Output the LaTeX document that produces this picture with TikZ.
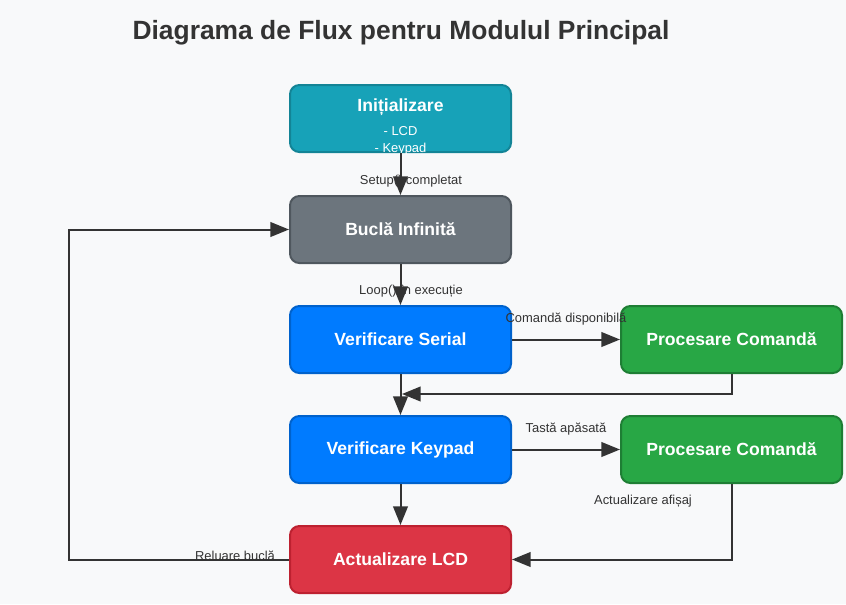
\documentclass[tikz,border=0pt]{standalone}
\usepackage{fontspec}
\setmainfont{Liberation Sans}
\usetikzlibrary{arrows.meta}

\definecolor{pagebg}{HTML}{F8F9FA}
\definecolor{ink}{HTML}{333333}
\definecolor{tealf}{HTML}{17A2B8}
\definecolor{teald}{HTML}{138496}
\definecolor{grayf}{HTML}{6C757D}
\definecolor{grayd}{HTML}{4F575E}
\definecolor{bluef}{HTML}{007BFF}
\definecolor{blued}{HTML}{0062CC}
\definecolor{greenf}{HTML}{28A745}
\definecolor{greend}{HTML}{1E7E34}
\definecolor{redf}{HTML}{DC3545}
\definecolor{redd}{HTML}{BD2130}

\begin{document}
\begin{tikzpicture}[x=0.75pt,y=-0.75pt,
    block/.style={rectangle,rounded corners=7pt,line width=1.5pt,
      minimum width=165.75pt,minimum height=50.25pt,inner sep=0pt,
      text=white,font=\fontsize{13.2}{16}\selectfont\bfseries},
    tealb/.style={block,fill=tealf,draw=teald},
    grayb/.style={block,fill=grayf,draw=grayd},
    blueb/.style={block,fill=bluef,draw=blued},
    greenb/.style={block,fill=greenf,draw=greend},
    redb/.style={block,fill=redf,draw=redd},
    lbl/.style={text=ink,font=\fontsize{9.7}{12}\selectfont,inner sep=1pt},
    flow/.style={draw=ink,line width=1.5pt,-{Triangle[length=14pt,width=11pt]}}]

    % Background and title
    \fill[pagebg] (0,0) rectangle (846,604);
    \node[text=ink,font=\fontsize{19.8}{24}\selectfont\bfseries] (title) at (401,33)
      {Diagrama de Flux pentru Modulul Principal};

    % Start block
    \node[tealb] (init) at (400.5,118.5) {};
    \node[text=white,font=\fontsize{13.2}{16}\selectfont\bfseries] (inittitle) at (400.5,107.5) {Inițializare};
    \node[text=white,font=\fontsize{9.7}{12.8}\selectfont,align=center] (initlist) at (400.5,140.5) {- LCD\\- Keypad};

    % Main column
    \foreach \nm/\y/\st/\txt in {bucla/229.5/grayb/Buclă Infinită,
        serial/339.5/blueb/Verificare Serial,
        keypad/449.5/blueb/Verificare Keypad,
        lcd/559.5/redb/Actualizare LCD} {
      \node[\st] (\nm) at (400.5,\y) {\txt};
    }

    % Side blocks
    \node[greenb] (proc1) at (731.5,339.5) {Procesare Comandă};
    \node[greenb] (proc2) at (731.5,449.5) {Procesare Comandă};

    % Edge labels
    \node[lbl] (l1) at (411,181) {Setup() completat};
    \node[lbl] (l2) at (411,291) {Loop() în execuție};
    \node[lbl] (l3) at (566,319) {Comandă disponibilă};
    \node[lbl] (l4) at (566,429) {Tastă apăsată};
    \node[lbl] (l5) at (643,501) {Actualizare afișaj};
    \node[lbl] (l6) at (235,556) {Reluare buclă};

    \coordinate (join) at (402,394);
    \coordinate (back) at (69,559.5);

    % Connectors
    \draw[flow] (init) -- (bucla);
    \draw[flow] (bucla) -- (serial);
    \draw[flow] (serial) -- (proc1);
    \draw[flow] (proc1.south) |- (join);
    \draw[flow] (serial) -- (keypad);
    \draw[flow] (keypad) -- (proc2);
    \draw[flow] (keypad) -- (lcd);
    \draw[flow] (proc2.south) |- (lcd.east);

    % Loop back to the start of the cycle
    \draw[flow] (lcd.west) -- (back) |- (bucla.west);

  \end{tikzpicture}
\end{document}
